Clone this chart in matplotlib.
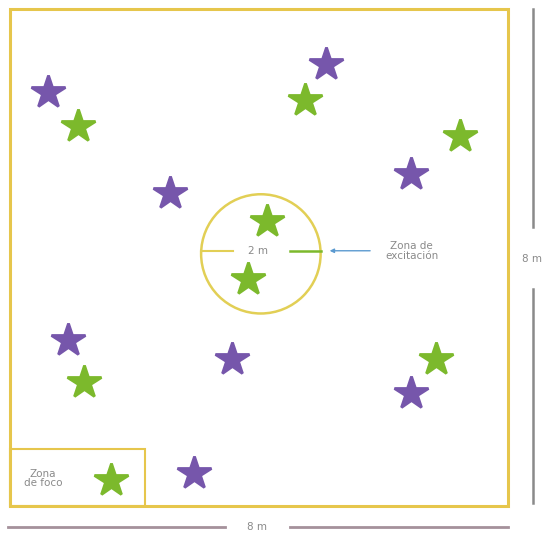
import matplotlib
matplotlib.use("Agg")
import matplotlib.pyplot as plt
from matplotlib.patches import Rectangle, Circle

# room is 8 m x 8 m, positions in metres from the lower-left corner
room_size = 8.0
purple_x = [0.61, 5.08, 2.57, 6.44, 0.93, 3.57, 6.44, 2.96]
purple_y = [6.67, 7.12, 5.04, 5.35, 2.67, 2.37, 1.82, 0.53]
green_x = [1.09, 4.74, 7.23, 4.13, 3.82, 6.84, 1.19]
green_y = [6.12, 6.54, 5.96, 4.59, 3.66, 2.37, 2.00]

zone_center = (4.03, 4.06)
zone_radius = 0.96
focus_w, focus_h = 2.17, 0.92
focus_star = (1.62, 0.42)

labels = {"circle": "2 m", "zone": "Zona de\nexcitación",
          "focus": "Zona\nde foco", "width": "8 m", "height": "8 m"}

PURPLE = "#7656ab"
GREEN = "#7cb92c"
YELLOW = "#e6c64c"
GREY = "#8a8a8a"

fig = plt.figure(figsize=(5.49, 5.36), dpi=100)
ax = fig.add_axes([0, 0, 1, 1])
ax.set_xlim(-0.161, 8.659)
ax.set_ylim(-0.483, 8.148)
ax.axis("off")

ax.add_patch(Rectangle((0, 0), room_size, room_size, fill=False,
                       ec=YELLOW, lw=2.2))
ax.add_patch(Rectangle((0, 0), focus_w, focus_h, fill=False,
                       ec=YELLOW, lw=1.5))
ax.add_patch(Circle(zone_center, zone_radius, fill=False, ec="#e2cf55", lw=1.8))

star = dict(marker="*", ms=25, mew=2, ls="none")
ax.plot(purple_x, purple_y, color=PURPLE, mec=PURPLE, **star)
ax.plot(green_x, green_y, color=GREEN, mec=GREEN, **star)
ax.plot(*focus_star, color=GREEN, mec=GREEN, **star)

# inside the circle: yellow tick, label, green tick
cx, cy = zone_center
ly = cy + 0.05
ax.plot([cx - zone_radius, cx - 0.45], [ly, ly], color="#e2cf55", lw=1.5)
ax.text(cx - 0.05, ly, labels["circle"], ha="center", va="center",
        fontsize=7.5, color=GREY)
ax.plot([cx + 0.47, cx + zone_radius], [ly, ly], color=GREEN, lw=1.8)
ax.annotate("", xy=(cx + 1.06, ly), xytext=(cx + 1.8, ly),
            arrowprops=dict(arrowstyle="-|>", color="#5b9ad0", lw=1.0,
                            mutation_scale=6))
ax.text(cx + 2.42, ly, labels["zone"], ha="center", va="center",
        fontsize=7.5, color=GREY, linespacing=0.95)

ax.text(0.53, 0.44, labels["focus"], ha="center", va="center",
        fontsize=7.5, color=GREY, linespacing=0.95)

# dimension lines
by = -0.34
ax.plot([-0.03, 3.45], [by, by], color="#a5919b", lw=2)
ax.plot([4.50, 8.0], [by, by], color="#a5919b", lw=2)
ax.text(3.97, by, labels["width"], ha="center", va="center",
        fontsize=7.5, color=GREY)

rx = 8.4
ax.plot([rx, rx], [8.0, 4.50], color=GREY, lw=1.8)
ax.plot([rx, rx], [3.50, 0.05], color=GREY, lw=1.8)
ax.text(rx - 0.02, 3.98, labels["height"], ha="center", va="center",
        fontsize=7.5, color=GREY)

fig.savefig("out.png", dpi=100)
